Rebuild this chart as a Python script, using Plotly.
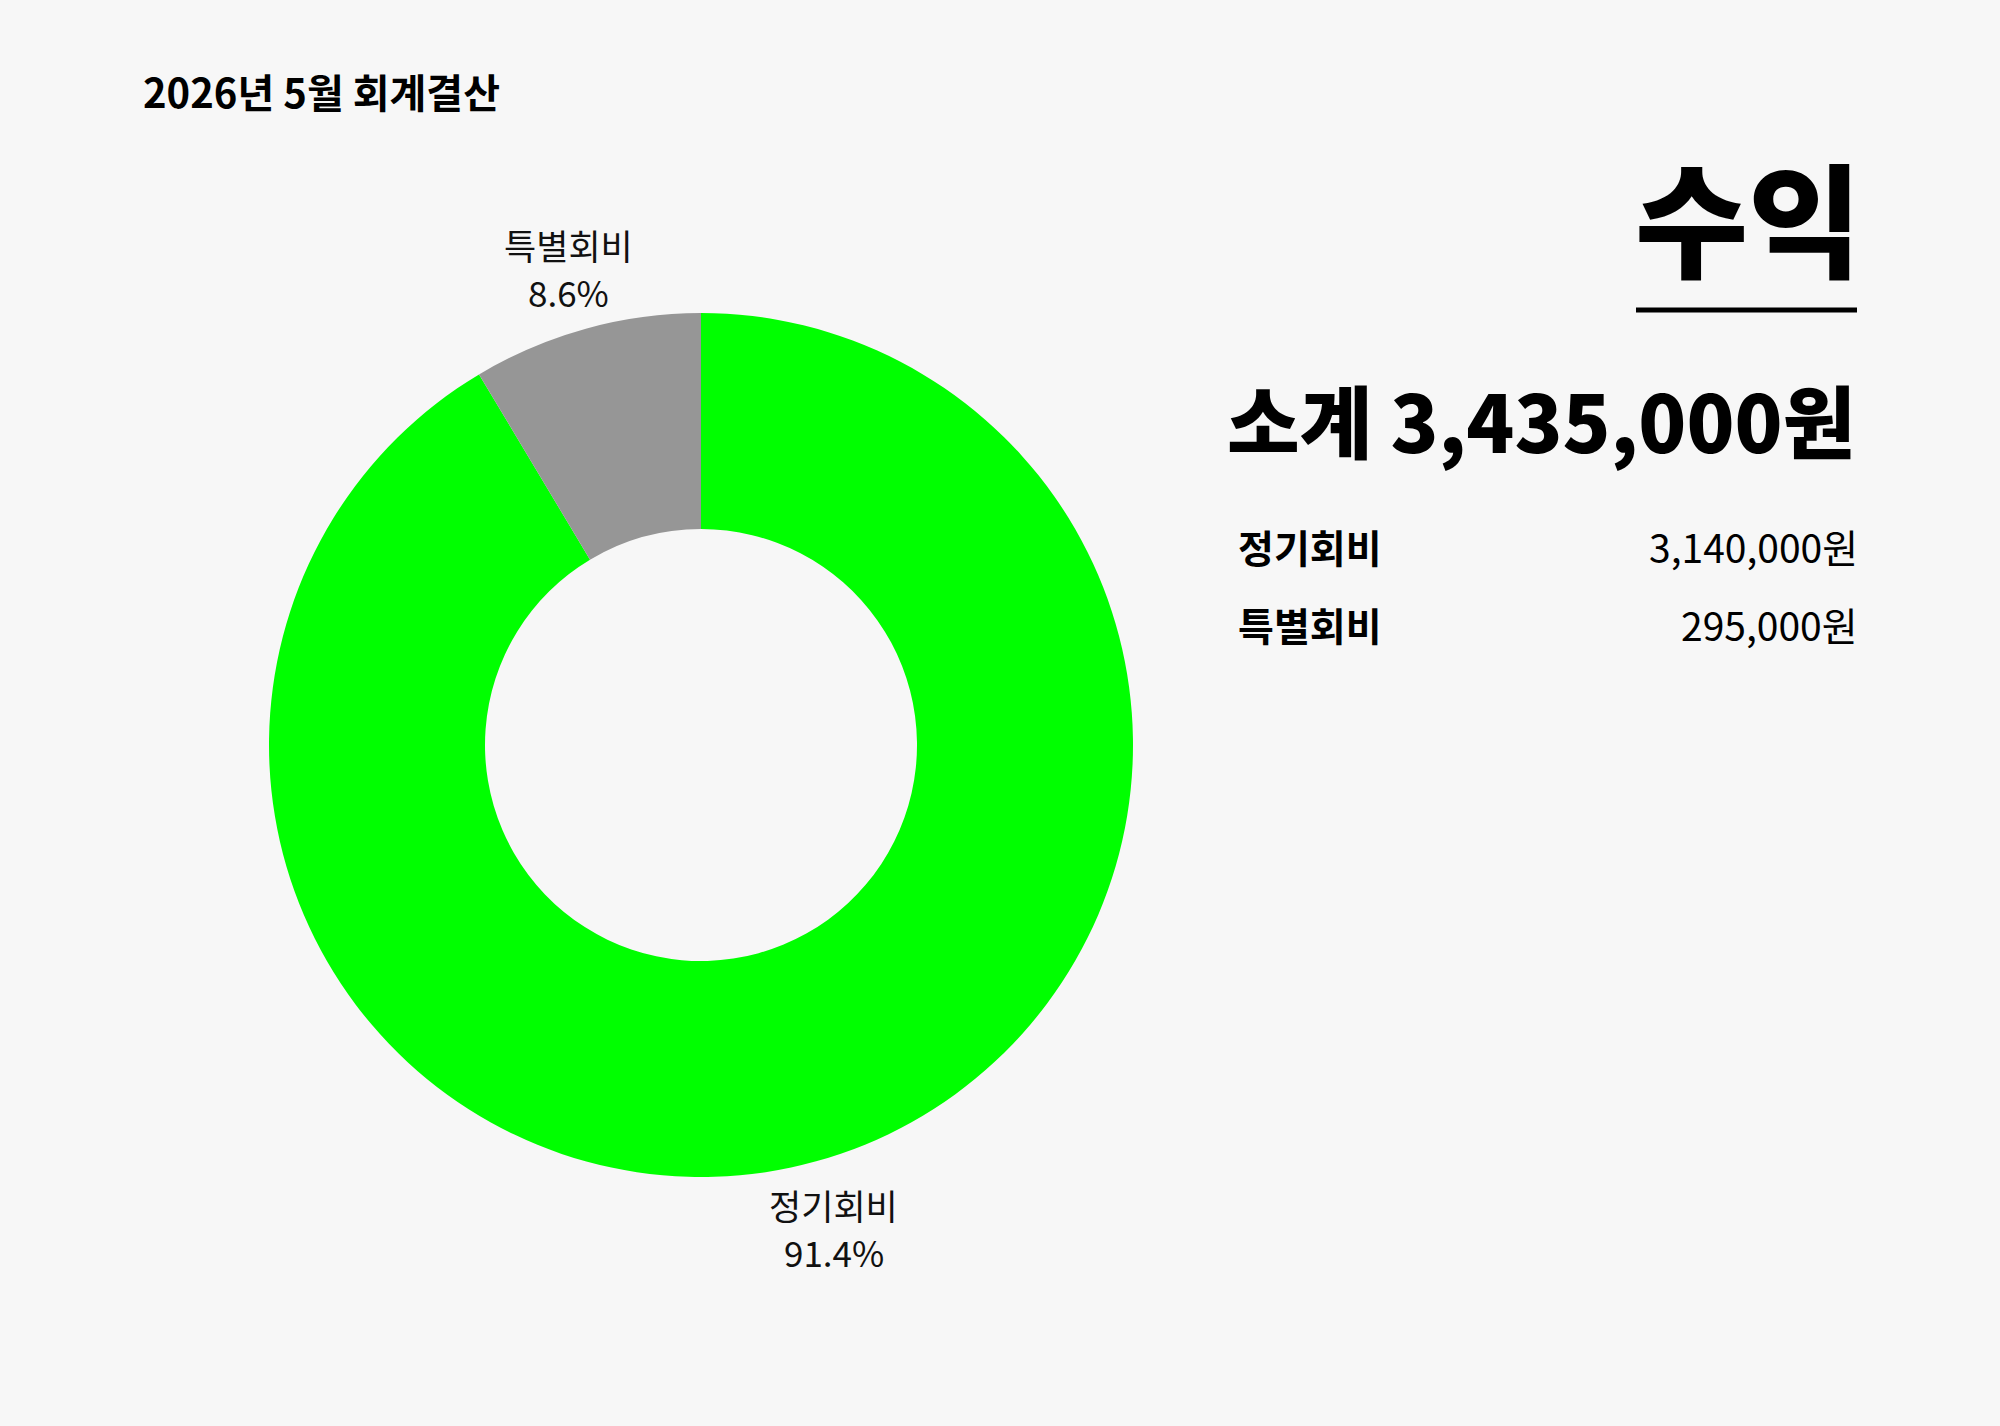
import math
import plotly.graph_objects as go

categories = ["정기회비", "특별회비"]
amounts = [3140000, 295000]
colors = ["#00FF00", "#969696"]
title_text = "2026년 5월 회계결산"
heading = "수익"

total = sum(amounts)
FONT = "Noto Sans CJK KR"
W, H = 2000, 1426

cx, cy, R = 701, 745, 432
fig = go.Figure(go.Pie(
    labels=categories, values=amounts, hole=0.5, sort=False,
    direction="clockwise", rotation=0,
    marker=dict(colors=colors, line=dict(width=0)),
    textinfo="none",
    domain=dict(x=[(cx - R) / W, (cx + R) / W],
                y=[(H - cy - R) / H, (H - cy + R) / H]),
    showlegend=False, hoverinfo="label+value+percent",
))

def px(x): return x / W
def py(y): return 1 - y / H

ann = []
# slice labels, placed radially outside each slice (derived from the data)
cum = 0
label_dist = 498
line_gap = 47
for name, val in zip(categories, amounts):
    mid = 2 * math.pi * (cum + val / 2) / total
    cum += val
    lx = cx + label_dist * math.sin(mid)
    ly = cy - label_dist * math.cos(mid) + 3
    for txt, dy in ((name, -line_gap / 2), (f"{val / total:.1%}", line_gap / 2)):
        ann.append(dict(x=px(lx), y=py(ly + dy), text=txt,
                        xanchor="center", yanchor="middle", showarrow=False,
                        font=dict(family=FONT, size=35, color="#111111", weight=400)))

ann.append(dict(x=px(141), y=py(91), text=title_text, xanchor="left", yanchor="middle",
                font=dict(family=FONT, size=40, color="#000", weight=700), showarrow=False))
ann.append(dict(x=px(1863), y=py(214), text=heading, xanchor="right", yanchor="middle",
                font=dict(family=FONT, size=123, color="#000", weight=900), showarrow=False))
ann.append(dict(x=px(1857), y=py(419), text=f"소계 {total:,}원", xanchor="right", yanchor="middle",
                font=dict(family=FONT, size=79, color="#000", weight=900), showarrow=False))
rows_y = [546, 624]
for name, val, yy in zip(categories, amounts, rows_y):
    ann.append(dict(x=px(1236), y=py(yy), text=name, xanchor="left", yanchor="middle",
                    font=dict(family=FONT, size=39, color="#000", weight=700), showarrow=False))
    ann.append(dict(x=px(1860), y=py(yy), text=f"{val:,}원", xanchor="right", yanchor="middle",
                    font=dict(family=FONT, size=39, color="#000", weight=400), showarrow=False))

fig.update_layout(
    width=W, height=H, margin=dict(l=0, r=0, t=0, b=0),
    paper_bgcolor="#F7F7F7", plot_bgcolor="#F7F7F7",
    annotations=ann,
    shapes=[dict(type="line", xref="paper", yref="paper", x0=px(1636), x1=px(1857),
                 y0=py(310), y1=py(310), line=dict(color="#000", width=5))],
)
fig.write_html("out.html", config={"displayModeBar": False},
               post_script="document.body.style.margin='0';document.body.style.overflow='hidden';")
